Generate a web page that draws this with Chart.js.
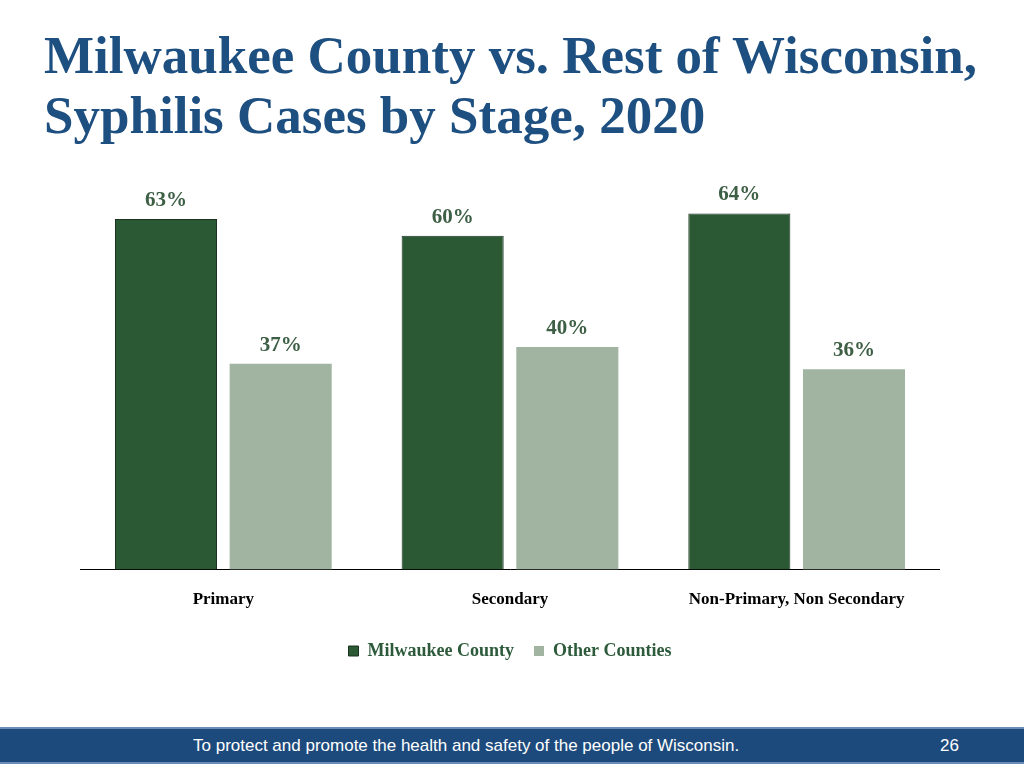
<!DOCTYPE html>
<html><head><meta charset="utf-8">
<script src="https://cdn.jsdelivr.net/npm/chart.js"></script>
<style>
body{margin:0;width:1024px;height:768px;background:#fff;position:relative;overflow:hidden;font-family:"Liberation Serif",serif}
#title{position:absolute;left:44px;top:25px;font-size:53px;font-weight:bold;color:#1d4f80;line-height:60px}
#wrap{position:absolute;left:80px;top:180px;width:860px;height:490px}
#foot{position:absolute;left:0;top:727px;width:1024px;height:33px;background:#1d4a7c;border-top:2px solid #6b8db5;border-bottom:2px solid #6b8db5;color:#fff;font-family:"Liberation Sans",Arial,sans-serif;font-size:17px}
#foot span{position:absolute;top:7px}
</style></head><body>
<div id="title">Milwaukee County vs. Rest of Wisconsin,<br>Syphilis Cases by Stage, 2020</div>
<div id="wrap"><canvas id="c"></canvas></div>
<div id="foot"><span style="left:193px">To protect and promote the health and safety of the people of Wisconsin.</span><span style="left:940px">26</span></div>
<script>
const categories=["Primary","Secondary","Non-Primary, Non Secondary"];
const milwaukee=[63,60,64];
const other=[37,40,36];
const labelPlugin={id:"lbl",afterDatasetsDraw(ch){const c=ch.ctx;c.save();c.font="bold 21px 'Liberation Serif'";c.fillStyle="#3d5f45";c.textAlign="center";c.textBaseline="bottom";
ch.data.datasets.forEach((d,i)=>{ch.getDatasetMeta(i).data.forEach((b,j)=>{c.fillText(d.data[j]+"%",b.x,b.y-8);});});c.restore();}};
new Chart(document.getElementById("c"),{type:"bar",
data:{labels:categories,datasets:[
{label:"Milwaukee County",data:milwaukee,backgroundColor:"#2b5934",borderColor:"#1b3320",borderWidth:1},
{label:"Other Counties",data:other,backgroundColor:"#a1b3a1"}]},
options:{responsive:true,animation:false,maintainAspectRatio:false,
categoryPercentage:0.8,barPercentage:0.89,
layout:{padding:0},
plugins:{legend:{position:"bottom",labels:{boxWidth:10,boxHeight:10,color:"#2d5a3a",font:{family:"Liberation Serif",size:18,weight:"bold"},padding:20}},tooltip:{enabled:false}},
scales:{y:{display:false,min:0,max:70},
x:{grid:{display:false},border:{color:"#000",width:1},ticks:{color:"#000",padding:12,font:{family:"Liberation Serif",size:17,weight:"bold"}}}}},
plugins:[labelPlugin]});
</script>
</body></html>
